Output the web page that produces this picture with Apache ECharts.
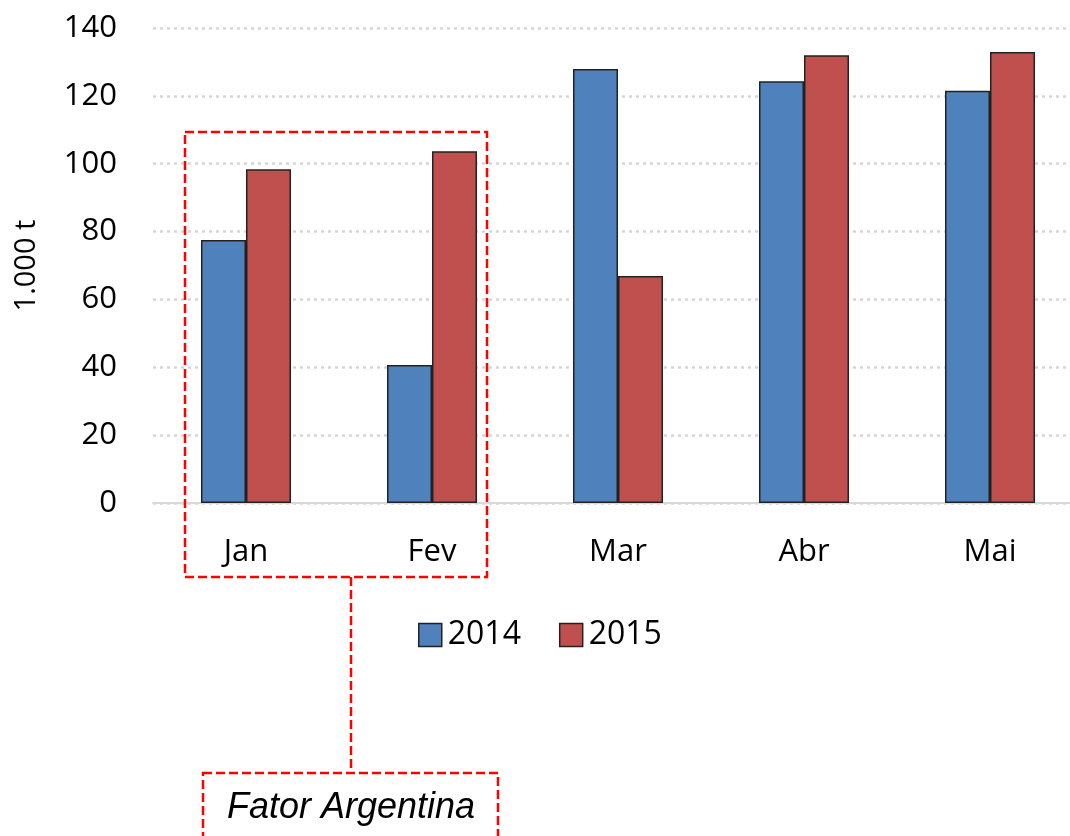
<!DOCTYPE html>
<html>
<head>
<meta charset="utf-8">
<script src="https://cdn.jsdelivr.net/npm/echarts@6/dist/echarts.min.js"></script>
<style>
  html, body { margin: 0; padding: 0; background: #fff; }
  #chart { width: 1070px; height: 836px; }
</style>
</head>
<body>
<div id="chart"></div>
<script>
// dados (1.000 t)
const months = ['Jan', 'Fev', 'Mar', 'Abr', 'Mai'];
const v2014 = [77.5, 40.7, 127.9, 124.3, 121.5];
const v2015 = [98.4, 103.7, 66.9, 132.0, 132.9];
const yTicks = [0, 20, 40, 60, 80, 100, 120, 140];

const font = '"Open Sans", sans-serif';
const red = '#ff0000';

let chart = echarts.init(document.getElementById('chart'));
let option = {
  animation: false,
  color: ['#4f81bd', '#c0504d'],
  grid: {
    left: 153,
    width: 930,
    top: 28,
    height: 475,
    containLabel: false,
    outerBoundsMode: 'none'
  },
  legend: {
    left: 413,
    top: 614,
    icon: 'rect',
    itemWidth: 23,
    itemHeight: 23,
    itemGap: 38,
    textStyle: { fontFamily: font, fontSize: 32, color: '#000', padding: [0, 0, 0, 1] },
    data: [
      { name: '2014', itemStyle: { borderColor: '#222', borderWidth: 1.5 } },
      { name: '2015', itemStyle: { borderColor: '#222', borderWidth: 1.5 } }
    ]
  },
  xAxis: {
    type: 'category',
    data: months,
    axisLine: { lineStyle: { color: '#d9d9d9', width: 2 } },
    axisTick: { show: false },
    axisLabel: { fontFamily: font, fontSize: 31, color: '#000', margin: 34 }
  },
  yAxis: {
    type: 'value',
    min: yTicks[0],
    max: yTicks[yTicks.length - 1],
    interval: 20,
    name: '1.000 t',
    nameLocation: 'middle',
    nameRotate: 90,
    nameGap: 112,
    nameTextStyle: { fontFamily: font, fontSize: 29, color: '#000' },
    axisLine: { show: false },
    axisTick: { show: false },
    axisLabel: { fontFamily: font, fontSize: 31, color: '#000', margin: 36 },
    splitLine: { lineStyle: { color: '#d6d6d6', width: 2.5, type: [3, 4] } }
  },
  series: [
    {
      name: '2014',
      type: 'bar',
      data: v2014,
      barGap: '0%',
      barCategoryGap: '51.6%',
      itemStyle: { borderColor: '#222', borderWidth: 1.5 }
    },
    {
      name: '2015',
      type: 'bar',
      data: v2015,
      itemStyle: { borderColor: '#222', borderWidth: 1.5 }
    }
  ],
  graphic: [
    {
      type: 'rect',
      shape: { x: 185, y: 132, width: 302, height: 445 },
      style: { fill: 'none', stroke: red, lineWidth: 2.5, lineDash: [9, 4] },
      z: 100
    },
    {
      type: 'line',
      shape: { x1: 351, y1: 577, x2: 351, y2: 773 },
      style: { stroke: red, lineWidth: 2.5, lineDash: [9, 4] },
      z: 100
    },
    {
      type: 'rect',
      shape: { x: 203, y: 773, width: 295, height: 90 },
      style: { fill: 'none', stroke: red, lineWidth: 2.5, lineDash: [9, 4] },
      z: 100
    },
    {
      type: 'text',
      x: 351,
      y: 808,
      style: {
        text: 'Fator Argentina',
        fontFamily: '"Liberation Sans", Arial, sans-serif',
        fontStyle: 'italic',
        fontSize: 36,
        fill: '#000',
        align: 'center',
        verticalAlign: 'middle'
      },
      z: 100
    }
  ]
};
chart.setOption(option);
</script>
</body>
</html>
